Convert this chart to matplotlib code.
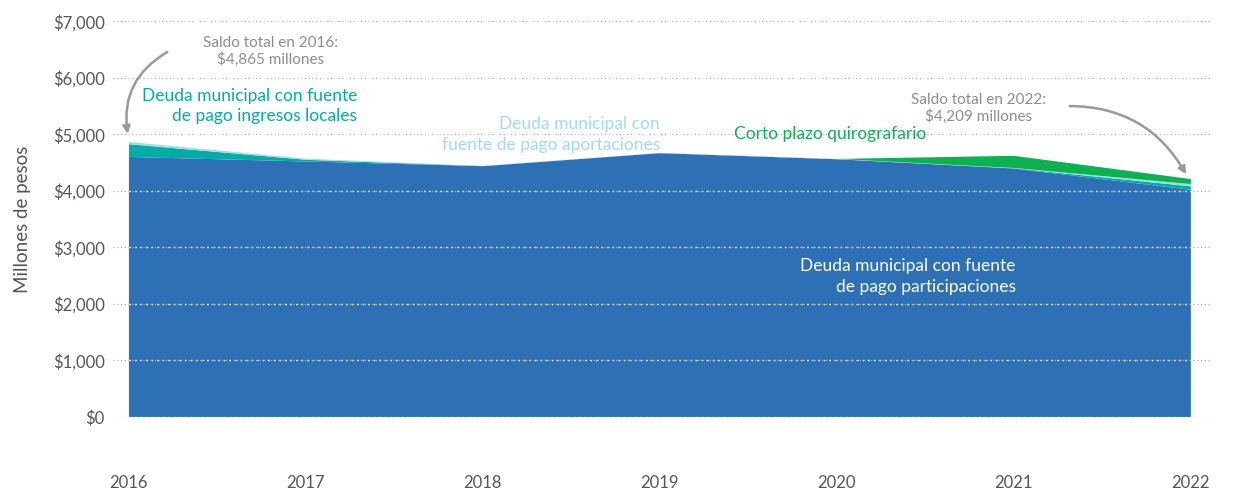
import matplotlib.pyplot as plt
from matplotlib.ticker import FuncFormatter

plt.rcParams["font.family"] = ["Lato", "DejaVu Sans"]

years = [2016, 2017, 2018, 2019, 2020, 2021, 2022]
participaciones = [4600, 4520, 4437, 4667, 4560, 4395, 4020]
ingresos_locales = [225, 30, 0, 0, 0, 5, 60]
aportaciones = [40, 20, 3, 3, 5, 5, 40]
corto_plazo = [0, 0, 0, 0, 0, 215, 89]

yticks = [0, 1000, 2000, 3000, 4000, 5000, 6000, 7000]

BLUE = "#2E70B5"
TEAL = "#00ADA6"
LIGHT = "#A3DAEA"
GREEN = "#0DB14F"
GRAY = "#555555"

fig = plt.figure(figsize=(12.35, 4.91), dpi=100)
ax = fig.add_axes([0.0915, 0.1507, 0.8885, 0.806])

ax.stackplot(years, participaciones, ingresos_locales, aportaciones, corto_plazo,
             colors=[BLUE, TEAL, LIGHT, GREEN], linewidth=0, zorder=1)

ax.set_xlim(2015.91, 2022.11)
ax.set_ylim(0, 7000)
ax.set_yticks(yticks)
ax.yaxis.set_major_formatter(FuncFormatter(lambda v, p: "${:,.0f}".format(v)))
ax.set_xticks(years)
ax.grid(axis="y", color="#aaaaaa", linestyle=(0, (1, 2)), linewidth=0.9, zorder=0)
for y in yticks:
    ax.plot([2016, 2022], [y, y], color="white", linestyle=(0, (1, 3)),
            linewidth=1.0, zorder=2)

for s in ax.spines.values():
    s.set_visible(False)
ax.tick_params(length=0, colors=GRAY, labelsize=12)
ax.tick_params(axis="x", pad=42)
ax.tick_params(axis="y", pad=6)
ax.set_ylabel("Millones de pesos", fontsize=13.5, color=GRAY, labelpad=16)

ax.text(2016.80, 6200, "Saldo total en 2016:\n$4,865 millones", ha="center",
        va="bottom", fontsize=11, color="#8c8c8c", linespacing=1.1)
ax.annotate("", xy=(2015.995, 4960), xytext=(2016.23, 6480),
            arrowprops=dict(arrowstyle="-|>", color="#999999", lw=1.8,
                            connectionstyle="arc3,rad=0.35", mutation_scale=11))

ax.text(2020.80, 5190, "Saldo total en 2022:\n$4,209 millones", ha="center",
        va="bottom", fontsize=11, color="#8c8c8c", linespacing=1.1)
ax.annotate("", xy=(2021.98, 4250), xytext=(2021.30, 5500),
            arrowprops=dict(arrowstyle="-|>", color="#999999", lw=1.8,
                            connectionstyle="arc3,rad=-0.3", mutation_scale=11))

ax.text(2017.29, 5500, "Deuda municipal con fuente\nde pago ingresos locales",
        ha="right", va="center", fontsize=12.5, color=TEAL, linespacing=1.35)
ax.text(2019.0, 5000, "Deuda municipal con\nfuente de pago aportaciones",
        ha="right", va="center", fontsize=12.5, color=LIGHT, linespacing=1.35)
ax.text(2019.42, 5000, "Corto plazo quirografario", ha="left", va="center",
        fontsize=12.5, color=GREEN)
ax.text(2021.01, 2490, "Deuda municipal con fuente\nde pago participaciones",
        ha="right", va="center", fontsize=12.5, color="white", linespacing=1.35)

fig.savefig("out.png", dpi=100)
